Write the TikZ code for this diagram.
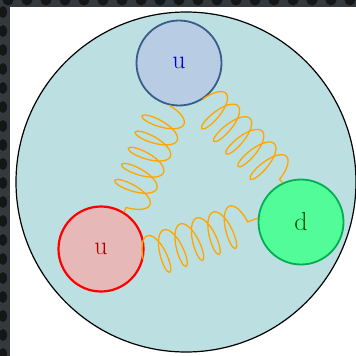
\documentclass[tikz,border=0pt]{standalone}
\usetikzlibrary{decorations.pathmorphing}
\definecolor{frame}{RGB}{52,57,62}
\definecolor{hole}{RGB}{20,22,24}
\definecolor{protonfill}{RGB}{188,224,226}
\definecolor{ufill}{RGB}{184,204,228}
\definecolor{uline}{RGB}{56,93,138}
\definecolor{utext}{RGB}{0,0,204}
\definecolor{rfill}{RGB}{230,184,183}
\definecolor{rline}{RGB}{255,0,0}
\definecolor{rtext}{RGB}{170,0,0}
\definecolor{gfill}{RGB}{82,252,152}
\definecolor{gline}{RGB}{0,176,80}
\definecolor{gtext}{RGB}{0,80,0}
\definecolor{gluon}{RGB}{255,165,0}
\begin{document}
\begin{tikzpicture}[x=1pt,y=-1pt,
  quark/.style={circle,inner sep=0pt,minimum size=85pt,font=\fontsize{26}{26}\selectfont},
  spring/.style={draw=gluon,line width=1.3pt,decorate,
    decoration={coil,amplitude=21pt,segment length=17.5pt,aspect=0.35,pre length=0pt,post length=0pt}}]
\useasboundingbox (0,0) rectangle (356,356);
\fill[white] (0,0) rectangle (356,356);
% perforated frame strip along the top and left edges
\fill[frame] (0,0) rectangle (356,7);
\fill[frame] (0,0) rectangle (10,356);
\foreach \i in {0,...,18} {\fill[hole] (8+\i*19,0) circle (5.5pt);}
\foreach \j in {0,...,18} {\fill[hole] (3,12+\j*19) ellipse (4pt and 6pt);}
% proton
\node[circle,draw=black,line width=1.2pt,fill=protonfill,minimum size=340pt,inner sep=0pt] (proton) at (186,182) {};
% quarks
\node[quark,fill=ufill,draw=uline,line width=1.8pt,text=utext] (uA) at (179,63) {u};
\node[quark,fill=rfill,draw=rline,line width=2.2pt,text=rtext] (uB) at (101,249) {u};
\node[quark,fill=gfill,draw=gline,line width=1.8pt,text=gtext] (dq) at (301,222) {d};
% gluon springs
\draw[spring] (uA.-103) -- (uB.58);
\draw[spring] (uA.-57) -- (dq.115);
\draw[spring] (uB.-14) -- (dq.175);
\end{tikzpicture}
\end{document}
